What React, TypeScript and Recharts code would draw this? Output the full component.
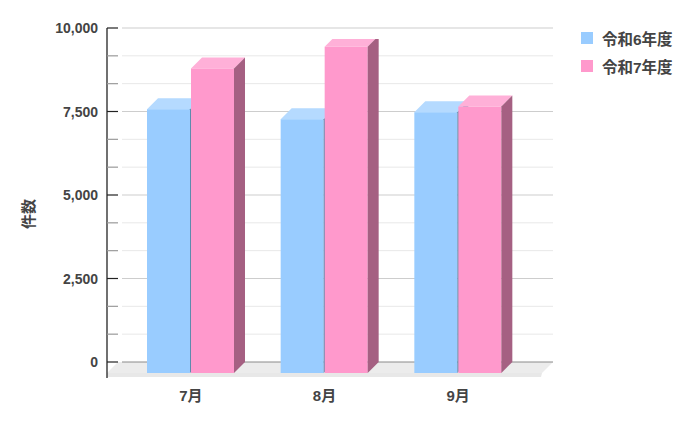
import React from 'react';
import { BarChart, Bar, XAxis, YAxis, CartesianGrid } from 'recharts';

const months = ['7月', '8月', '9月'];
const reiwa6 = [7900, 7600, 7810];
const reiwa7 = [9120, 9770, 7980];
const seriesNames = ['令和6年度', '令和7年度'];
const yTicks = [0, 833.33, 1666.67, 2500, 3333.33, 4166.67, 5000, 5833.33, 6666.67, 7500, 8333.33, 9166.67, 10000];
const majorTicks = [0, 2500, 5000, 7500, 10000];

const data = months.map((m, i) => ({ month: m, r6: reiwa6[i], r7: reiwa7[i] }));

const D = 11;
const FONT = '"Liberation Sans", "Noto Sans CJK JP", Arial, sans-serif';
const TEXT = '#444';

const palette = [
  { front: '#99ccff', top: '#b5daff', side: '#5f8bad' },
  { front: '#ff99cc', top: '#ffb0d8', side: '#a56082' },
];

const make3D = (c: any) => (props: any) => {
  const { x, y, width: w, height: h } = props;
  if (w == null || h == null || isNaN(x) || isNaN(y)) return <g />;
  return (
    <g>
      <rect x={x} y={y} width={w} height={h} fill={c.front} />
      <polygon points={`${x},${y} ${x + D},${y - D} ${x + w + D},${y - D} ${x + w},${y}`} fill={c.top} />
      <polygon points={`${x + w},${y} ${x + w + D},${y - D} ${x + w + D},${y + h - D} ${x + w},${y + h}`} fill={c.side} />
    </g>
  );
};

const gridLine = (props: any) => {
  const { x1, x2, y1, index, y, key } = props;
  const isZero = index === 0;
  const isMajor = index % 3 === 0;
  const by = y1 - D;
  return (
    <g key={key}>
      {isZero && (
        <>
          <polygon points={`${x1},${y1} ${x1 + D},${by} ${x2 + D},${by} ${x2},${y1}`} fill="#ececec" />
          <polygon points={`${x1},${y1} ${x2},${y1} ${x2 - 1},${y1 + 4} ${x1},${y1 + 4}`} fill="#e8e8e8" />
          <line x1={x1} y1={(y ?? y1 - 334) - D} x2={x1} y2={y1 + 5} stroke="#111" strokeWidth={1.2} />
        </>
      )}
      <line
        x1={x1 + 15}
        y1={by}
        x2={x2 + D}
        y2={by}
        stroke={isZero ? '#8a8a8a' : isMajor ? '#cdcdcd' : '#e8e8e8'}
        strokeWidth={1}
      />
      <line x1={x1} y1={by} x2={x1 + D} y2={by} stroke={isMajor ? '#222' : '#9a9a9a'} strokeWidth={1.2} />
    </g>
  );
};

const XTick = (props: any) => {
  const { x, y, payload } = props;
  return (
    <text x={x} y={y + 22} textAnchor="middle" dominantBaseline="central" fontFamily={FONT} fontSize={15} fontWeight="bold" fill={TEXT}>
      {payload.value}
    </text>
  );
};

const YTick = (props: any) => {
  const { x, y, payload } = props;
  const v = payload.value;
  if (!majorTicks.includes(v)) return <g />;
  return (
    <text x={x - 9} y={y - D} textAnchor="end" dominantBaseline="central" fontFamily={FONT} fontSize={14} fontWeight="bold" fill={TEXT}>
      {v.toLocaleString('en-US')}
    </text>
  );
};

const YLabel = (props: any) => {
  const vb = props.viewBox || { x: 0, y: 31, width: 99, height: 334 };
  const cx = vb.x + 20;
  const cy = vb.y + vb.height / 2 + 8;
  return (
    <text x={cx} y={cy} textAnchor="middle" dominantBaseline="central" transform={`rotate(-90 ${cx} ${cy})`} fontFamily={FONT} fontSize={15} fontWeight="bold" fill={TEXT}>
      件数
    </text>
  );
};

export default function App() {
  return (
    <div style={{ position: 'relative', width: 692, height: 415 }}>
      <BarChart width={692} height={415} data={data} margin={{ top: 31, right: 158, left: 0, bottom: 20 }} barSize={43} barGap={1}>
        <CartesianGrid vertical={false} horizontal={gridLine} horizontalValues={yTicks} stroke="none" />
        <XAxis dataKey="month" axisLine={false} tickLine={false} tickSize={0} tickMargin={0} height={30} padding={{ left: 17, right: 17 }} tick={<XTick />} interval={0} />
        <YAxis type="number" domain={[0, 10000]} ticks={yTicks} interval={0} axisLine={false} tickLine={false} tickSize={0} tickMargin={0} width={99} tick={<YTick />} label={<YLabel />} allowDataOverflow />
        <Bar dataKey="r6" name={seriesNames[0]} fill={palette[0].front} shape={make3D(palette[0])} isAnimationActive={false} />
        <Bar dataKey="r7" name={seriesNames[1]} fill={palette[1].front} shape={make3D(palette[1])} isAnimationActive={false} />
      </BarChart>
      <div style={{ position: 'absolute', left: 573, top: 15.25, fontFamily: FONT }}>
        {seriesNames.map((n, i) => (
          <div key={n} style={{ display: 'flex', alignItems: 'center', height: 28.5 }}>
            <div style={{ width: 12, height: 12, background: palette[i].front, marginRight: 9 }} />
            <span style={{ fontSize: 15.5, fontWeight: 'bold', color: TEXT }}>{n}</span>
          </div>
        ))}
      </div>
    </div>
  );
}
